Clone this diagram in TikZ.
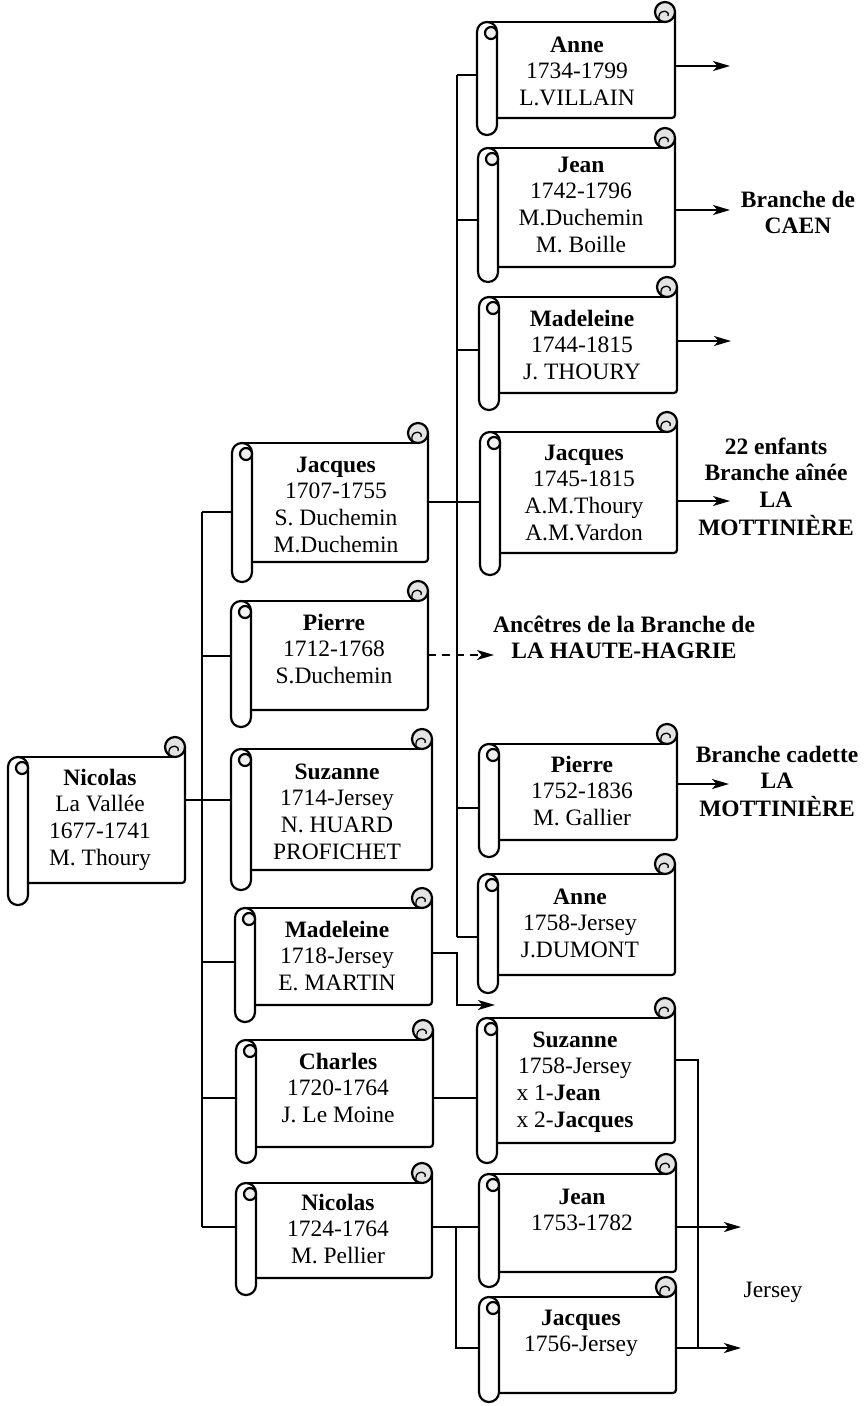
\documentclass[tikz,border=0pt]{standalone}
\usepackage{fontspec}
\setmainfont{Liberation Serif}
\usetikzlibrary{arrows.meta}
\newcommand\lignes[1]{\begin{tabular}[t]{@{}c@{}}#1\end{tabular}}
\newcommand\gauche[1]{\multicolumn{1}{@{}l@{}}{#1}}
% scroll: L T R B RB  (pixel coordinates, y downwards)
\newcommand\parch[5]{%
  \fill[white] ({#1+10},#2) rectangle (#3,#4);
  \draw[sc] ({#1+10},#2) -- ({#3-10},#2);
  \draw[sc] (#3,{#2-10}) -- (#3,{#4-7}) .. controls (#3,#4) .. ({#3-7},#4) -- ({#1+20},#4);
  \draw[sc,fill=gray!22] ({#3-10},{#2-10}) circle[radius=10];
  \draw[sc,line width=1.3pt] ({#3-16},#2) -- ({#3-16},{#2-6}) .. controls ({#3-15},{#2-13}) and ({#3-5},{#2-12}) .. ({#3-7},{#2-6});
  \draw[sc,fill=white,rounded corners=9.9pt] (#1,#2) rectangle ({#1+20},#5);
  \draw[sc,fill=gray!12] ({#1+14},{#2+11}) circle[radius=6];
}
\begin{document}
\begin{tikzpicture}[x=1pt,y=-1pt,
  sc/.style={line width=2.2pt, line join=round},
  conn/.style={line width=2pt},
  arr/.style={conn,-{Stealth[length=17pt,width=10pt,inset=4.5pt]}},
  txt/.style={inner sep=0pt, anchor=base, font=\fontsize{23.5}{26.7}\selectfont},
  lab/.style={inner sep=0pt, anchor=base, font=\fontsize{23.5}{26.7}\selectfont\bfseries},
]
\useasboundingbox (0,0) rectangle (867,1406);

% ---------- connection points ----------
\coordinate (r0-R) at (185,800);
\coordinate (t-jac) at (202,512);
\coordinate (t-pie) at (202,656);
\coordinate (t-mad) at (202,962);
\coordinate (t-cha) at (202,1098);
\coordinate (t-nic) at (202,1227);
\coordinate (g2jac-L) at (232,512);
\coordinate (g2pie-L) at (231,656);
\coordinate (g2suz-L) at (231,800);
\coordinate (g2mad-L) at (235,962);
\coordinate (g2cha-L) at (236,1098);
\coordinate (g2nic-L) at (236,1227);

\coordinate (g2jac-R) at (428,502);
\coordinate (g2pie-R) at (428,655);
\coordinate (hag-tip) at (494,655);
\coordinate (g2mad-R) at (432,953);
\coordinate (m1) at (457,953);
\coordinate (m2) at (457,1005);
\coordinate (m-tip) at (495,1005);
\coordinate (g2cha-R) at (433,1098);
\coordinate (g2nic-R) at (432,1227);
\coordinate (n1) at (456,1227);
\coordinate (n2) at (456,1348);

\coordinate (u-ann) at (457,75);
\coordinate (u-jea) at (457,220);
\coordinate (u-mad) at (457,350);
\coordinate (u-pie) at (457,808);
\coordinate (u-an2) at (457,937);
\coordinate (g3ann-L) at (477,75);
\coordinate (g3jea-L) at (478,220);
\coordinate (g3mad-L) at (479,350);
\coordinate (g3jac-L) at (480,502);
\coordinate (g3pie-L) at (479,808);
\coordinate (g3an2-L) at (478,937);
\coordinate (g3suz-L) at (477,1098);
\coordinate (g3jn2-L) at (479,1227);
\coordinate (g3jq2-L) at (479,1348);

\coordinate (g3ann-R) at (675,66);   \coordinate (a-ann) at (730,66);
\coordinate (g3jea-R) at (675,210);  \coordinate (a-jea) at (730,210);
\coordinate (g3mad-R) at (677,341);  \coordinate (a-mad) at (731,341);
\coordinate (g3jac-R) at (677,501);  \coordinate (a-jac) at (730,501);
\coordinate (g3pie-R) at (677,784);  \coordinate (a-pie) at (729,784);
\coordinate (g3suz-R) at (675,1060); \coordinate (s1) at (698,1060); \coordinate (s2) at (698,1348);
\coordinate (g3jn2-R) at (676,1227); \coordinate (a-jn2) at (741,1227);
\coordinate (g3jq2-R) at (676,1348); \coordinate (a-jq2) at (741,1348);

% ---------- connectors ----------
\draw[conn] (t-jac) -- (t-nic);
\draw[conn] (t-jac) -- (g2jac-L);
\draw[conn] (t-pie) -- (g2pie-L);
\draw[conn] (r0-R) -- (g2suz-L);
\draw[conn] (t-mad) -- (g2mad-L);
\draw[conn] (t-cha) -- (g2cha-L);
\draw[conn] (t-nic) -- (g2nic-L);

\draw[conn] (u-ann) -- (u-an2);
\draw[conn] (u-ann) -- (g3ann-L);
\draw[conn] (u-jea) -- (g3jea-L);
\draw[conn] (u-mad) -- (g3mad-L);
\draw[conn] (u-pie) -- (g3pie-L);
\draw[conn] (u-an2) -- (g3an2-L);
\draw[conn] (g2jac-R) -- (g3jac-L);
\draw[arr,dash pattern=on 8pt off 6pt] (g2pie-R) -- (hag-tip);
\draw[arr] (g2mad-R) -- (m1) -- (m2) -- (m-tip);
\draw[conn] (g2cha-R) -- (g3suz-L);
\draw[conn] (g2nic-R) -- (g3jn2-L);
\draw[conn] (n1) -- (n2) -- (g3jq2-L);

\draw[arr] (g3ann-R) -- (a-ann);
\draw[arr] (g3jea-R) -- (a-jea);
\draw[arr] (g3mad-R) -- (a-mad);
\draw[arr] (g3jac-R) -- (a-jac);
\draw[arr] (g3pie-R) -- (a-pie);
\draw[conn] (g3suz-R) -- (s1) -- (s2);
\draw[arr] (g3jn2-R) -- (a-jn2);
\draw[arr] (g3jq2-R) -- (a-jq2);

% ---------- scrolls ----------
\parch{8}{757}{185}{883}{905}
\parch{232}{443}{428}{562}{582}
\parch{231}{601}{428}{710}{727}
\parch{231}{749}{432}{870}{890}
\parch{235}{908}{432}{1005}{1022}
\parch{236}{1040}{433}{1147}{1163}
\parch{236}{1183}{432}{1278}{1295}
\parch{477}{22}{675}{118}{135}
\parch{478}{148}{675}{267}{282}
\parch{479}{297}{677}{393}{410}
\parch{480}{432}{677}{553}{575}
\parch{479}{744}{677}{840}{857}
\parch{478}{874}{675}{975}{993}
\parch{477}{1018}{675}{1143}{1163}
\parch{479}{1174}{676}{1272}{1287}
\parch{479}{1297}{676}{1393}{1402}

% ---------- texts ----------
\node[txt] (r0) at (100,785) {\lignes{\textbf{Nicolas}\\La Vallée\\1677-1741\\M. Thoury}};
\node[txt] (g2jac) at (336,472) {\lignes{\textbf{Jacques}\\1707-1755\\S. Duchemin\\M.Duchemin}};
\node[txt] (g2pie) at (334,630) {\lignes{\textbf{Pierre}\\1712-1768\\S.Duchemin}};
\node[txt] (g2suz) at (337,779) {\lignes{\textbf{Suzanne}\\1714-Jersey\\N. HUARD\\PROFICHET}};
\node[txt] (g2mad) at (337,937) {\lignes{\textbf{Madeleine}\\1718-Jersey\\E. MARTIN}};
\node[txt] (g2cha) at (338,1069) {\lignes{\textbf{Charles}\\1720-1764\\J. Le Moine}};
\node[txt] (g2nic) at (338,1210) {\lignes{\textbf{Nicolas}\\1724-1764\\M. Pellier}};

\node[txt] (g3ann) at (577,52) {\lignes{\textbf{Anne}\\1734-1799\\L.VILLAIN}};
\node[txt] (g3jea) at (581,172) {\lignes{\textbf{Jean}\\1742-1796\\M.Duchemin\\M. Boille}};
\node[txt] (g3mad) at (582,326) {\lignes{\textbf{Madeleine}\\1744-1815\\J. THOURY}};
\node[txt] (g3jac) at (584,460) {\lignes{\textbf{Jacques}\\1745-1815\\A.M.Thoury\\A.M.Vardon}};
\node[txt] (g3pie) at (582,772) {\lignes{\textbf{Pierre}\\1752-1836\\M. Gallier}};
\node[txt] (g3an2) at (580,904) {\lignes{\textbf{Anne}\\1758-Jersey\\J.DUMONT}};
\node[txt] (g3suz) at (575,1047) {\lignes{\textbf{Suzanne}\\1758-Jersey\\\gauche{x 1-\textbf{Jean}}\\\gauche{x 2-\textbf{Jacques}}}};
\node[txt] (g3jn2) at (582,1204) {\lignes{\textbf{Jean}\\1753-1782}};
\node[txt] (g3jq2) at (581,1325) {\lignes{\textbf{Jacques}\\1756-Jersey}};

\node[lab] (caen) at (798,207) {\lignes{Branche de\\CAEN}};
\node[lab] (ainee) at (776,454) {\lignes{22 enfants\\Branche aînée\\LA\\MOTTINIÈRE}};
\node[lab] (hagrie) at (624,632) {\lignes{Ancêtres de la Branche de\\LA HAUTE-HAGRIE}};
\node[lab] (cadette) at (777,762) {\lignes{Branche cadette\\LA\\MOTTINIÈRE}};
\node[txt] (jersey) at (773,1297) {Jersey};
\end{tikzpicture}
\end{document}
